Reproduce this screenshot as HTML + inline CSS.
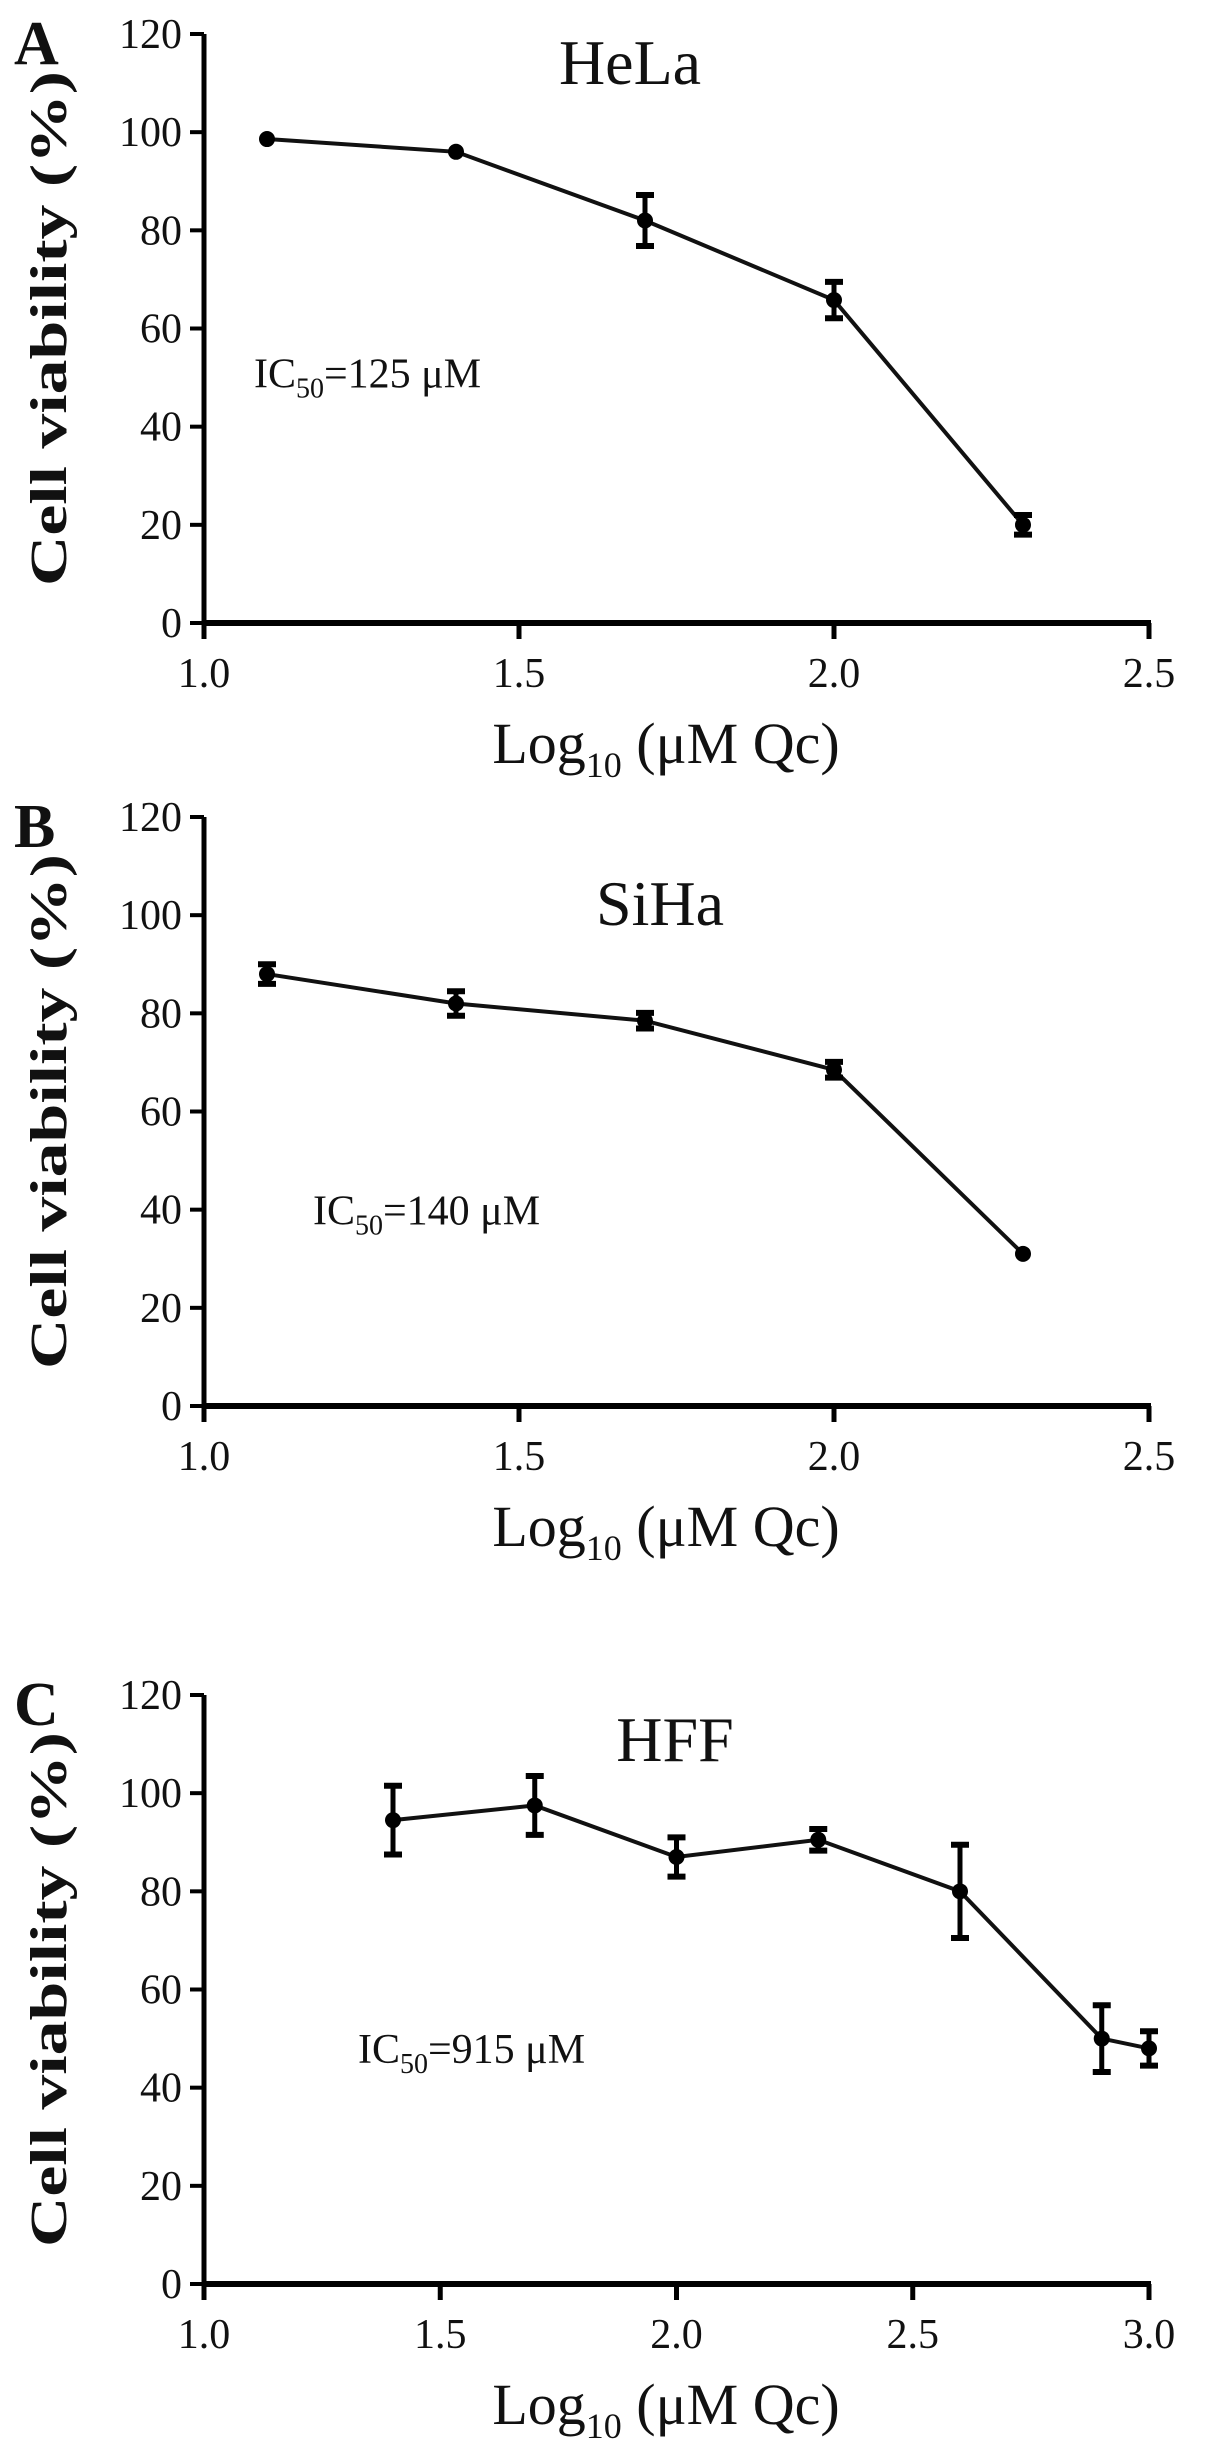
<!DOCTYPE html>
<html><head><meta charset="utf-8"><style>
html,body{margin:0;padding:0;background:#fff;}
svg{display:block;}
text{font-family:"Liberation Serif",serif;fill:#111;}
</style></head><body>
<svg id="fig" width="1205" height="2446" viewBox="0 0 1205 2446" xmlns="http://www.w3.org/2000/svg"></svg>
<script>
// Panel A (HeLa)
const xA = [1.1, 1.4, 1.7, 2.0, 2.3];
const yA = [98.6, 96, 82, 65.8, 20];
const eA = [0, 0, 5.2, 3.7, 2];
// Panel B (SiHa)
const xB = [1.1, 1.4, 1.7, 2.0, 2.3];
const yB = [88, 82, 78.5, 68.5, 31];
const eB = [2, 2.5, 1.6, 1.6, 0];
// Panel C (HFF)
const xC = [1.4, 1.7, 2.0, 2.3, 2.6, 2.9, 3.0];
const yC = [94.5, 97.5, 87, 90.5, 80, 50, 48];
const eC = [7, 6, 4, 2.2, 9.5, 6.8, 3.5];
const yTicks = [0, 20, 40, 60, 80, 100, 120];
const xTicksAB = ["1.0", "1.5", "2.0", "2.5"];
const xTicksC = ["1.0", "1.5", "2.0", "2.5", "3.0"];

const NS = "http://www.w3.org/2000/svg";
const svg = document.getElementById('fig');
function mk(tag, attrs, parent) {
  const e = document.createElementNS(NS, tag);
  for (const k in attrs) e.setAttribute(k, attrs[k]);
  (parent || svg).appendChild(e);
  return e;
}

function panel(opt) {
  const g = mk('g', {});
  
  
  const x0 = 204, x1 = 1149, top = opt.top, bot = opt.top + 589;
  const xmin = parseFloat(opt.xt[0]), xmax = parseFloat(opt.xt[opt.xt.length - 1]);
  const sx = v => x0 + (v - xmin) / (xmax - xmin) * (x1 - x0);
  const sy = v => bot - v / 120 * (bot - top);

  const ya = mk('line', {x1: x0, y1: top, x2: x0, y2: bot, stroke: '#000', 'stroke-width': 5}, g);
  
  
  const xa = mk('line', {x1: x0 - 2, y1: bot, x2: x1 + 2, y2: bot, stroke: '#000', 'stroke-width': 6}, g);
  
  

  yTicks.forEach(t => {
    const y = sy(t);
    mk('line', {x1: x0 - 14, y1: y, x2: x0, y2: y, stroke: '#000', 'stroke-width': 4}, g);
    const tx = mk('text', {x: x0 - 22, y: y + 14, 'text-anchor': 'end', 'font-size': 42, fill: '#333'}, g);
    tx.textContent = t;
    
    
  });
  opt.xt.forEach(t => {
    const x = sx(parseFloat(t));
    mk('line', {x1: x, y1: bot, x2: x, y2: bot + 16, stroke: '#000', 'stroke-width': 5}, g);
    const tx = mk('text', {x: x, y: bot + 64, 'text-anchor': 'middle', 'font-size': 42, fill: '#333'}, g);
    tx.textContent = t;
    
    
  });

  const yt = mk('text', {x: 0, y: 0, 'text-anchor': 'middle', 'font-size': 52, 'font-weight': 'bold',
    transform: `translate(66,${(top + bot) / 2}) rotate(-90)`, textLength: 515, lengthAdjust: 'spacingAndGlyphs'}, g);
  yt.textContent = 'Cell viability (%)';
  
  

  const xtl = mk('text', {x: 666, y: bot + 140, 'text-anchor': 'middle', 'font-size': 58, fill: '#222'}, g);
  xtl.innerHTML = 'Log<tspan font-size="36" dy="14">10</tspan><tspan dy="-14"> (μM Qc)</tspan>';
  
  

  const pl = mk('text', {x: 14, y: top + 30, 'font-size': 62, 'font-weight': 'bold'}, g);
  pl.textContent = opt.letter;
  
  

  const ti = mk('text', {x: opt.titleX, y: top + 50 + opt.titleDy, 'text-anchor': 'middle', 'font-size': 64}, g);
  ti.textContent = opt.title;
  
  

  const ic = mk('text', {x: opt.icX, y: sy(opt.icV), 'font-size': 42, fill: '#444'}, g);
  ic.innerHTML = 'IC<tspan font-size="28" dy="10">50</tspan><tspan dy="-10">=' + opt.ic + ' μM</tspan>';
  
  

  const pts = opt.xs.map((v, i) => sx(v) + ',' + sy(opt.ys[i])).join(' ');
  const pl2 = mk('polyline', {points: pts, fill: 'none', stroke: '#111', 'stroke-width': 4}, g);
  
  

  opt.xs.forEach((v, i) => {
    const cx = sx(v), cy = sy(opt.ys[i]), e = opt.es[i];
    if (e > 0) {
      const eg = mk('g', {stroke: '#000', 'stroke-width': 5}, g);
      
      
      mk('line', {x1: cx, y1: sy(opt.ys[i] + e), x2: cx, y2: sy(opt.ys[i] - e)}, eg);
      mk('line', {x1: cx - 9, y1: sy(opt.ys[i] + e), x2: cx + 9, y2: sy(opt.ys[i] + e), 'stroke-width': 6}, eg);
      mk('line', {x1: cx - 9, y1: sy(opt.ys[i] - e), x2: cx + 9, y2: sy(opt.ys[i] - e), 'stroke-width': 6}, eg);
    }
    const c = mk('circle', {cx: cx, cy: cy, r: 8, fill: '#000'}, g);
    
    
  });
}

panel({key: 'a-hela', letter: 'A', title: 'HeLa', top: 34, xt: xTicksAB, xs: xA, ys: yA, es: eA,
  titleX: 630, titleDy: 0, ic: '125', icX: 254, icV: 48});
panel({key: 'b-siha', letter: 'B', title: 'SiHa', top: 817, xt: xTicksAB, xs: xB, ys: yB, es: eB,
  titleX: 660, titleDy: 58, ic: '140', icX: 313, icV: 37});
panel({key: 'c-hff', letter: 'C', title: 'HFF', top: 1695, xt: xTicksC, xs: xC, ys: yC, es: eC,
  titleX: 675, titleDy: 16, ic: '915', icX: 358, icV: 45});
</script>
</body></html>
